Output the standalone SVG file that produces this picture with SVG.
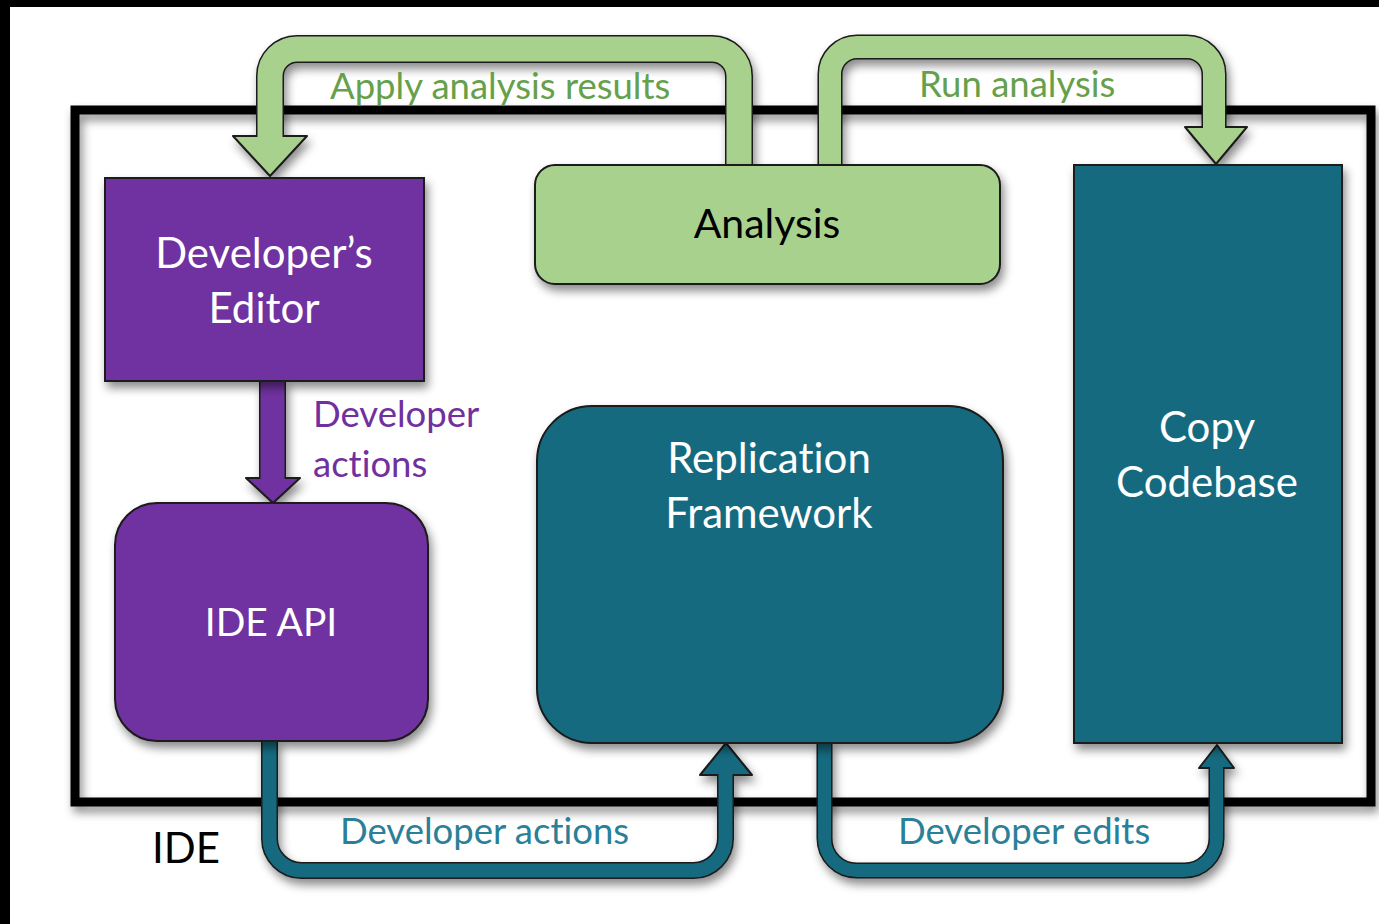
<svg xmlns="http://www.w3.org/2000/svg" width="1379" height="924" viewBox="0 0 1379 924">
  <style>
    .lbl { font-family: Lato, "Liberation Sans", sans-serif; font-variant-ligatures: none; }
    .node-text { fill: #ffffff; font-size: 42px; text-anchor: middle; }
    .edge-label { font-size: 36.5px; }
    .edge-outline { fill: none; stroke: #1a1a1a; stroke-linejoin: round; }
    .green { fill: #a9d18e; }
    .purple { fill: #7030a0; }
    .teal { fill: #176a7f; }
    .box { stroke: #1a1a1a; stroke-width: 2; }
  </style>
  <defs>
    <filter id="shadow" x="-10%" y="-10%" width="130%" height="140%">
      <feDropShadow dx="3" dy="6" stdDeviation="5" flood-color="#000" flood-opacity="0.45"/>
    </filter>
  </defs>

  <!-- page background with dark edges -->
  <rect x="0" y="0" width="1379" height="924" fill="#ffffff"/>
  <rect x="0" y="0" width="1379" height="7" fill="#000"/>
  <rect x="0" y="0" width="10" height="924" fill="#000"/>

  <!-- IDE frame -->
  <g id="ide">
    <rect x="75" y="110" width="1296" height="692" fill="none" stroke="#000" stroke-width="9" filter="url(#shadow)"/>
    <text class="lbl" x="152" y="863" font-size="42" fill="#000">IDE</text>
  </g>

  <!-- connectors -->
  <g id="connectors" filter="url(#shadow)">
    <!-- Apply analysis results: Analysis -> Developer's Editor -->
    <g id="edge-apply">
      <path class="edge-outline" stroke-width="28" d="M739 166 V76 A27 27 0 0 0 712 49 H297 A27 27 0 0 0 270 76 V137"/>
      <polygon points="233,136 307,136 270,176" fill="#a9d18e" stroke="#1a1a1a" stroke-width="2" stroke-linejoin="round"/>
      <path fill="none" stroke="#a9d18e" stroke-width="25" d="M739 166 V76 A27 27 0 0 0 712 49 H297 A27 27 0 0 0 270 76 V138"/>
    </g>
    <!-- Run analysis: Analysis -> Copy Codebase -->
    <g id="edge-run">
      <path class="edge-outline" stroke-width="25" d="M830 166 V74 A27 27 0 0 1 857 47 H1187 A27 27 0 0 1 1214 74 V128"/>
      <polygon points="1185,127 1247,127 1216,164" fill="#a9d18e" stroke="#1a1a1a" stroke-width="2" stroke-linejoin="round"/>
      <path fill="none" stroke="#a9d18e" stroke-width="22" d="M830 166 V74 A27 27 0 0 1 857 47 H1187 A27 27 0 0 1 1214 74 V129"/>
    </g>
    <!-- Developer actions: Editor -> IDE API -->
    <g id="edge-editor-api">
      <path class="edge-outline" stroke-width="27" d="M272.5 380 V479"/>
      <polygon points="246,478 300,478 273,503" fill="#7030a0" stroke="#1a1a1a" stroke-width="2" stroke-linejoin="round"/>
      <path fill="none" stroke="#7030a0" stroke-width="24" d="M272.5 380 V480"/>
    </g>
    <!-- Developer actions: IDE API -> Replication Framework -->
    <g id="edge-api-replication">
      <path class="edge-outline" stroke-width="17" d="M269.5 740 V838.5 A32 32 0 0 0 301.5 870.5 H693.5 A32 32 0 0 0 725.5 838.5 V774"/>
      <polygon points="700,775 752,775 726,743" fill="#176a7f" stroke="#1a1a1a" stroke-width="2" stroke-linejoin="round"/>
      <path fill="none" stroke="#176a7f" stroke-width="14" d="M269.5 740 V838.5 A32 32 0 0 0 301.5 870.5 H693.5 A32 32 0 0 0 725.5 838.5 V773"/>
    </g>
    <!-- Developer edits: Replication Framework -> Copy Codebase -->
    <g id="edge-replication-copy">
      <path class="edge-outline" stroke-width="16" d="M824.5 742 V838.5 A32 32 0 0 0 856.5 870.5 H1184.5 A32 32 0 0 0 1216.5 838.5 V767"/>
      <polygon points="1199,768 1234,768 1217,745" fill="#176a7f" stroke="#1a1a1a" stroke-width="2" stroke-linejoin="round"/>
      <path fill="none" stroke="#176a7f" stroke-width="13" d="M824.5 742 V838.5 A32 32 0 0 0 856.5 870.5 H1184.5 A32 32 0 0 0 1216.5 838.5 V766"/>
    </g>
  </g>

  <!-- connector labels -->
  <g id="edge-labels" class="lbl edge-label">
    <text x="330" y="99" fill="#66a04a">Apply analysis results</text>
    <text x="919" y="97" fill="#66a04a">Run analysis</text>
    <text x="313" y="427" fill="#7030a0">Developer</text>
    <text x="313" y="477" fill="#7030a0">actions</text>
    <text x="340" y="844" fill="#2a8098">Developer actions</text>
    <text x="898" y="844" fill="#2a8098">Developer edits</text>
  </g>

  <!-- nodes -->
  <g id="node-editor">
    <rect class="purple box" x="105" y="178" width="319" height="203" filter="url(#shadow)"/>
    <text class="lbl node-text" x="264" y="268">Developer’s</text>
    <text class="lbl node-text" x="264" y="323">Editor</text>
  </g>
  <g id="node-ide-api">
    <rect class="purple box" x="115" y="503" width="313" height="238" rx="42" filter="url(#shadow)"/>
    <text class="lbl node-text" x="271" y="636" style="font-size:39px">IDE API</text>
  </g>
  <g id="node-analysis">
    <rect class="green box" x="535" y="165" width="465" height="119" rx="20" filter="url(#shadow)"/>
    <text class="lbl" x="767" y="238" font-size="41" fill="#000" text-anchor="middle">Analysis</text>
  </g>
  <g id="node-replication">
    <rect class="teal box" x="537" y="406" width="466" height="337" rx="55" filter="url(#shadow)"/>
    <text class="lbl node-text" x="769" y="473">Replication</text>
    <text class="lbl node-text" x="769" y="528">Framework</text>
  </g>
  <g id="node-copy">
    <rect class="teal box" x="1074" y="165" width="268" height="578" filter="url(#shadow)"/>
    <text class="lbl node-text" x="1207" y="442">Copy</text>
    <text class="lbl node-text" x="1207" y="497">Codebase</text>
  </g>
</svg>
